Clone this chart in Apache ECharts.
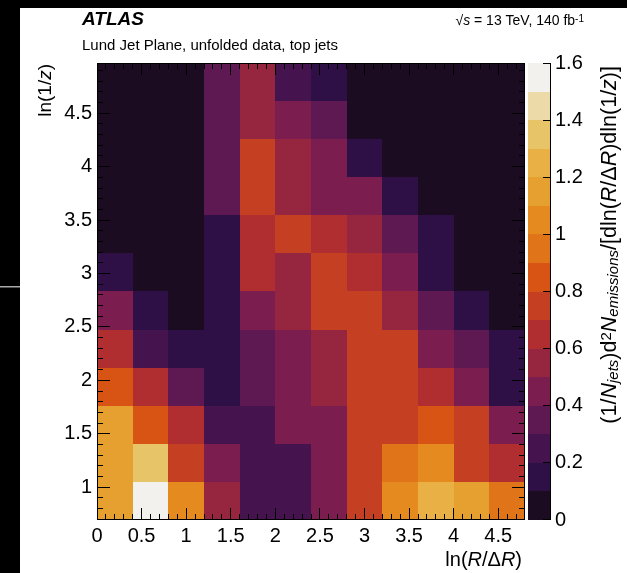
<!DOCTYPE html>
<html><head><meta charset="utf-8">
<script src="https://cdn.jsdelivr.net/npm/echarts@6/dist/echarts.min.js"></script>
<style>html,body{margin:0;padding:0;background:#fff}#c{width:627px;height:573px}</style>
</head><body><div id="c"></div><script>
// bin edges of ln(R/ΔR) (x) and ln(1/z) (y)
const xEdges = [0, 0.4, 0.8, 1.2, 1.6, 2.0, 2.4, 2.8, 3.2, 3.6, 4.0, 4.4, 4.8];
const yEdges = [0.693, 1.050, 1.406, 1.762, 2.119, 2.475, 2.832, 3.188, 3.544, 3.901, 4.257, 4.614, 4.970];
// emission density, rows from lowest ln(1/z) bin to highest, columns along ln(R/ΔR)
const values = [
  [1.15, 1.55, 1.02, 0.55, 0.28, 0.28, 0.45, 0.78, 1.05, 1.25, 1.15, 0.95],
  [1.15, 1.35, 0.78, 0.45, 0.28, 0.28, 0.45, 0.72, 0.95, 1.05, 0.78, 0.68],
  [1.15, 0.82, 0.60, 0.28, 0.28, 0.45, 0.45, 0.72, 0.78, 0.85, 0.70, 0.45],
  [0.82, 0.65, 0.30, 0.15, 0.30, 0.45, 0.58, 0.72, 0.78, 0.65, 0.45, 0.15],
  [0.65, 0.28, 0.15, 0.15, 0.30, 0.45, 0.58, 0.72, 0.78, 0.45, 0.35, 0.15],
  [0.45, 0.15, 0.05, 0.18, 0.45, 0.55, 0.75, 0.72, 0.58, 0.30, 0.18, 0.05],
  [0.18, 0.05, 0.05, 0.15, 0.60, 0.58, 0.72, 0.60, 0.48, 0.15, 0.05, 0.05],
  [0.05, 0.05, 0.05, 0.15, 0.60, 0.75, 0.60, 0.50, 0.38, 0.15, 0.05, 0.05],
  [0.05, 0.05, 0.05, 0.35, 0.72, 0.55, 0.45, 0.45, 0.15, 0.05, 0.05, 0.05],
  [0.05, 0.05, 0.05, 0.35, 0.72, 0.55, 0.48, 0.15, 0.05, 0.05, 0.05, 0.05],
  [0.05, 0.05, 0.05, 0.35, 0.55, 0.45, 0.35, 0.05, 0.05, 0.05, 0.05, 0.05],
  [0.05, 0.05, 0.05, 0.35, 0.55, 0.28, 0.15, 0.05, 0.05, 0.05, 0.05, 0.05]
];
// colour scale: level boundaries and one colour per band
const levelEdges = [0, 0.1, 0.2, 0.3, 0.4, 0.5, 0.6, 0.7, 0.8, 0.9, 1.0, 1.1, 1.2, 1.3, 1.4, 1.5, 1.6];
const palette = ['#1b0c21', '#2e1046', '#45144f', '#5e1952', '#7c1d4f', '#962540', '#b02e30', '#c53f22',
  '#d85414', '#e07418', '#e48a1f', '#e6a030', '#e8b045', '#e8c468', '#ecdaa8', '#f2f1ee'];
// tick positions
const xMajorTicks = [0, 0.5, 1, 1.5, 2, 2.5, 3, 3.5, 4, 4.5];
const yMajorTicks = [1, 1.5, 2, 2.5, 3, 3.5, 4, 4.5];
const zMajorTicks = [0, 0.2, 0.4, 0.6, 0.8, 1.0, 1.2, 1.4, 1.6];

const xMin = xEdges[0], xMax = xEdges[xEdges.length - 1];
const yMin = yEdges[0], yMax = yEdges[yEdges.length - 1];

function colorFor(v) {
  for (let i = 0; i < palette.length; i++) {
    if (v < levelEdges[i + 1]) return palette[i];
  }
  return palette[palette.length - 1];
}

const cellData = [];
values.forEach((row, j) => row.forEach((v, i) => {
  cellData.push([xEdges[i], xEdges[i + 1], yEdges[j], yEdges[j + 1], v]);
}));
const barData = [];
for (let k = 0; k < palette.length; k++) {
  barData.push([0, 1, levelEdges[k], levelEdges[k + 1], (levelEdges[k] + levelEdges[k + 1]) / 2]);
}

// tick items: [value, kind]  kind 0 x-major, 1 x-minor, 2 y-major, 3 y-minor, 9 frame
const tickData = [[0, 9]];
xMajorTicks.forEach(v => tickData.push([v, 0]));
yMajorTicks.forEach(v => tickData.push([v, 2]));
for (let k = 1; k < 48; k++) { if (k % 5 !== 0) tickData.push([k / 10, 1]); }
for (let k = 7; k < 50; k++) { if (k % 5 !== 0) tickData.push([k / 10, 3]); }
const zTickData = [[0, 9]];
zMajorTicks.forEach(v => zTickData.push([v, 2]));

function rectItem(params, api) {
  const a = api.coord([api.value(0), api.value(3)]);
  const b = api.coord([api.value(1), api.value(2)]);
  const L = Math.round(a[0]), T = Math.round(a[1]), R = Math.round(b[0]), B = Math.round(b[1]);
  return { type: 'rect', shape: { x: L, y: T, width: R - L, height: B - T },
    style: { fill: colorFor(api.value(4)) } };
}
function bar(x, y, w, h) {
  return { type: 'rect', shape: { x: x, y: y, width: w, height: h }, style: { fill: '#000' } };
}
function tickItem(params, api) {
  const v = api.value(0), kind = api.value(1);
  const tl = api.coord([xMin, yMax]), br = api.coord([xMax, yMin]);
  const L = Math.round(tl[0]), T = Math.round(tl[1]), R = Math.round(br[0]), B = Math.round(br[1]);
  if (kind === 9) {
    return { type: 'group', children: [bar(L, T, R - L, 1), bar(L, B - 1, R - L, 1), bar(L, T, 1, B - T), bar(R - 1, T, 1, B - T)] };
  }
  if (kind <= 1) {
    const len = kind === 0 ? 12 : 6;
    const x = Math.min(Math.floor(api.coord([v, yMin])[0]), R - 1);
    return { type: 'group', children: [bar(x, B - len, 1, len), bar(x, T, 1, len)] };
  }
  const len = kind === 2 ? 13 : 6;
  const y = Math.floor(api.coord([xMin, v])[1]);
  return { type: 'group', children: [bar(L, y, len, 1), bar(R - len, y, len, 1)] };
}
function zTickItem(params, api) {
  const v = api.value(0), kind = api.value(1);
  const tr = api.coord([1, 1.6]), br = api.coord([1, 0]);
  const R = Math.round(tr[0]), T = Math.round(tr[1]), B = Math.round(br[1]);
  if (kind === 9) return bar(R - 1, T, 1, B - T);
  const y = Math.min(Math.floor(api.coord([1, v])[1]), B - 1);
  return bar(R - 8, y, 8, 1);
}

const FONT = 'Liberation Sans, Arial, Helvetica, sans-serif';
const tickFont = { color: '#000', fontSize: 20 };
const noLines = { axisLine: { show: false }, axisTick: { show: false }, splitLine: { show: false } };

const sub = { fontSize: 15, fontStyle: 'italic', fontFamily: FONT, verticalAlign: 'bottom', fill: '#000', color: '#000' };
const sup = { fontSize: 15, fontFamily: FONT, verticalAlign: 'top', fill: '#000', color: '#000' };
const nrm = { fontSize: 20, fontFamily: FONT, fill: '#000', color: '#000' };
const itl = { fontSize: 20, fontStyle: 'italic', fontFamily: FONT, fill: '#000', color: '#000' };
const nrmB = { fontSize: 21.5, fontFamily: FONT, fill: '#000', color: '#000' };
const itlB = { fontSize: 21.5, fontStyle: 'italic', fontFamily: FONT, fill: '#000', color: '#000' };

const chart = echarts.init(document.getElementById('c'));
chart.setOption({
  backgroundColor: '#fff',
  animation: false,
  grid: [
    { left: 97, top: 63, width: 428, height: 457 },
    { left: 528, top: 63, width: 23, height: 457 }
  ],
  xAxis: [
    { gridIndex: 0, type: 'value', min: xMin, max: xMax, interval: 0.5, ...noLines,
      axisLabel: { show: true, margin: 6, showMaxLabel: false, ...tickFont } },
    { gridIndex: 1, type: 'value', min: 0, max: 1, show: false }
  ],
  yAxis: [
    { gridIndex: 0, type: 'value', min: yMin, max: yMax, splitNumber: 8, minInterval: 0.5, maxInterval: 0.5, ...noLines,
      axisLabel: { show: true, margin: 5, showMinLabel: false, showMaxLabel: false, ...tickFont } },
    { gridIndex: 1, type: 'value', position: 'right', min: 0, max: 1.6, interval: 0.2, ...noLines,
      axisLabel: { show: true, margin: 4, ...tickFont } }
  ],
  series: [
    { type: 'custom', xAxisIndex: 0, yAxisIndex: 0, renderItem: rectItem, data: cellData,
      encode: { x: [0, 1], y: [2, 3] }, silent: true, z: 2 },
    { type: 'custom', xAxisIndex: 1, yAxisIndex: 1, renderItem: rectItem, data: barData,
      encode: { x: [0, 1], y: [2, 3] }, silent: true, z: 2 },
    { type: 'custom', xAxisIndex: 0, yAxisIndex: 0, renderItem: tickItem, data: tickData,
      encode: { x: 0 }, silent: true, z: 10 },
    { type: 'custom', xAxisIndex: 1, yAxisIndex: 1, renderItem: zTickItem, data: zTickData,
      encode: { y: 0 }, silent: true, z: 10 }
  ],
  graphic: [
    { type: 'rect', shape: { x: 0, y: 0, width: 20, height: 573 }, style: { fill: '#000' }, z: 100 },
    { type: 'rect', shape: { x: 0, y: 0, width: 627, height: 8 }, style: { fill: '#000' }, z: 100 },
    { type: 'rect', shape: { x: 0, y: 286, width: 20, height: 1.5 }, style: { fill: '#aaa' }, z: 101 },
    { type: 'text', x: 82, y: 20, z: 100,
      style: { text: 'ATLAS', font: 'italic bold 19px ' + FONT, fill: '#000', align: 'left', verticalAlign: 'middle', textAlign: 'left', textVerticalAlign: 'middle' } },
    { type: 'text', x: 82, y: 46, z: 100,
      style: { text: 'Lund Jet Plane, unfolded data, top jets', font: '15px ' + FONT, fill: '#000', align: 'left', verticalAlign: 'middle', textAlign: 'left', textVerticalAlign: 'middle' } },
    { type: 'text', x: 584, y: 21, z: 100,
      style: { text: '√{i|s} = 13 TeV, 140 fb{s|-1}', font: '14px ' + FONT, fill: '#000', align: 'right', verticalAlign: 'middle', textAlign: 'right', textVerticalAlign: 'middle',
        rich: { i: { fontSize: 14, fontStyle: 'italic', fontFamily: FONT, fill: '#000' }, s: { fontSize: 10, fontFamily: FONT, verticalAlign: 'top', fill: '#000' } } } },
    { type: 'text', x: 46, y: 64, rotation: Math.PI / 2, z: 100,
      style: { text: '{n|ln(1/}{i|z}{n|)}', fill: '#000', align: 'right', verticalAlign: 'middle', textAlign: 'right', textVerticalAlign: 'middle',
        rich: { n: { ...nrm, fontSize: 19 }, i: { ...itl, fontSize: 19 } } } },
    { type: 'text', x: 522, y: 560, z: 100,
      style: { text: '{n|ln(}{i|R}{n|/Δ}{i|R}{n|)}', fill: '#000', align: 'right', verticalAlign: 'middle', textAlign: 'right', textVerticalAlign: 'middle',
        rich: { n: nrm, i: itl } } },
    { type: 'text', x: 610, y: 66, rotation: Math.PI / 2, z: 100,
      style: { text: '{n|(1/}{i|N}{b|jets}{n|)d}{p|2}{i|N}{b|emissions}{n|/[dln(}{i|R}{n|/Δ}{i|R}{n|)dln(1/}{i|z}{n|)]}',
        fill: '#000', align: 'right', verticalAlign: 'middle', textAlign: 'right', textVerticalAlign: 'middle',
        rich: { n: nrmB, i: itlB, b: sub, p: sup } } }
  ]
});
</script></body></html>
